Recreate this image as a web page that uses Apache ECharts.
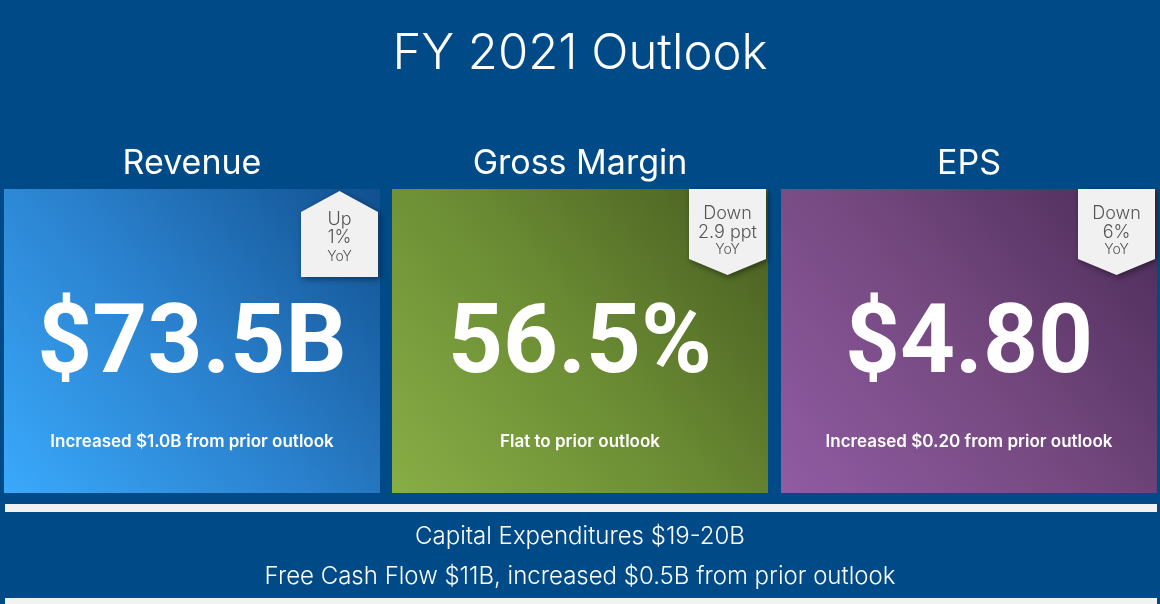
<!DOCTYPE html>
<html>
<head>
<meta charset="utf-8">
<title>FY 2021 Outlook</title>
<script src="https://cdn.jsdelivr.net/npm/echarts@6/dist/echarts.min.js"></script>
<style>
  html, body { margin: 0; padding: 0; background: #004b87; }
  #main { width: 1160px; height: 604px; }
</style>
</head>
<body>
<div id="main"></div>
<script>
// outlook data
const metrics = ['Revenue', 'Gross Margin', 'EPS'];
const outlookValues = ['$73.5B', '56.5%', '$4.80'];
const yoyDirection = ['Up', 'Down', 'Down'];
const yoyChange = ['1%', '2.9 ppt', '6%'];
const priorNotes = ['Increased $1.0B from prior outlook', 'Flat to prior outlook', 'Increased $0.20 from prior outlook'];
const footerLines = ['Capital Expenditures $19-20B', 'Free Cash Flow $11B, increased $0.5B from prior outlook'];

// panel look
const panelLeft = [4, 392, 781];
const panelTop = 189, panelW = 376, panelH = 304;
const panelColors = [
  ['#3aa9fb', '#2a80cc', '#11508f'],
  ['#88ae46', '#6a8b33', '#475b20'],
  ['#905ca3', '#74487f', '#4a2b57']
];
const FONT = 'Inter, "Noto Sans", sans-serif';

const chartDom = document.getElementById('main');
const myChart = echarts.init(chartDom);

const graphics = [];

// title
graphics.push({
  type: 'text', x: 580, y: 54,
  style: { text: 'FY 2021 Outlook', fill: '#fff', fontSize: 49, fontWeight: 300, fontFamily: FONT, align: 'center', verticalAlign: 'middle' }
});

metrics.forEach((name, i) => {
  const x0 = panelLeft[i];
  const cx = x0 + panelW / 2;
  const c = panelColors[i];

  graphics.push({
    type: 'text', x: cx, y: 164,
    style: { text: name, fill: '#fff', fontSize: 34, fontWeight: 400, fontFamily: FONT, align: 'center', verticalAlign: 'middle' }
  });

  graphics.push({
    type: 'rect', shape: { x: x0, y: panelTop, width: panelW, height: panelH },
    style: {
      fill: new echarts.graphic.LinearGradient(0, 1, 1, 0, [
        { offset: 0, color: c[0] }, { offset: 0.5, color: c[1] }, { offset: 1, color: c[2] }
      ])
    }
  });

  // YoY badge: up arrow shape for growth, down arrow shape for decline
  const bR = x0 + panelW - 2;
  const bL = bR - 77;
  const bC = (bL + bR) / 2;
  let pts, textY;
  if (yoyDirection[i] === 'Up') {
    pts = [[bL, 212], [bC, 191], [bR, 212], [bR, 277], [bL, 277]];
    textY = [220, 238, 257];
  } else {
    pts = [[bL, panelTop], [bR, panelTop], [bR, 259], [bC, 275], [bL, 259]];
    textY = [214, 233, 250];
  }
  graphics.push({
    type: 'polygon', shape: { points: pts },
    style: { fill: '#f1f1f1', shadowBlur: 6, shadowOffsetX: 2, shadowOffsetY: 2, shadowColor: 'rgba(0,0,0,0.45)' }
  });
  graphics.push({
    type: 'text', x: bC, y: textY[0],
    style: { text: yoyDirection[i], fill: '#555', fontSize: 18, fontWeight: 300, fontFamily: FONT, align: 'center', verticalAlign: 'middle' }
  });
  graphics.push({
    type: 'text', x: bC, y: textY[1],
    style: { text: yoyChange[i], fill: '#555', fontSize: 18, fontWeight: 300, fontFamily: FONT, align: 'center', verticalAlign: 'middle' }
  });
  graphics.push({
    type: 'text', x: bC, y: textY[2],
    style: { text: 'YoY', fill: '#555', fontSize: 14, fontWeight: 300, fontFamily: FONT, align: 'center', verticalAlign: 'middle' }
  });

  // headline figure
  graphics.push({
    type: 'text', x: cx, y: 348,
    style: {
      text: outlookValues[i], fontSize: 96, fontWeight: 700, fontFamily: 'Roboto, Inter, sans-serif', align: 'center', verticalAlign: 'middle',
      fill: '#ffffff',
      shadowBlur: 4, shadowColor: 'rgba(0,0,0,0.25)', shadowOffsetY: 1
    }
  });

  graphics.push({
    type: 'text', x: cx, y: 442,
    style: { text: priorNotes[i], fill: '#fff', fontSize: 17, fontWeight: 600, fontFamily: FONT, align: 'center', verticalAlign: 'middle' }
  });
});

// separator bars and footer
graphics.push({ type: 'rect', shape: { x: 5, y: 504, width: 1152, height: 8 }, style: { fill: '#f2f2f2' } });
graphics.push({ type: 'rect', shape: { x: 5, y: 598, width: 1152, height: 8 }, style: { fill: '#f2f2f2' } });
footerLines.forEach((line, k) => {
  graphics.push({
    type: 'text', x: 580, y: 537 + k * 40,
    style: { text: line, fill: '#fff', fontSize: 24, fontWeight: 300, fontFamily: FONT, align: 'center', verticalAlign: 'middle' }
  });
});

const option = {
  backgroundColor: '#004b87',
  animation: false,
  graphic: graphics
};
myChart.setOption(option);
</script>
</body>
</html>
